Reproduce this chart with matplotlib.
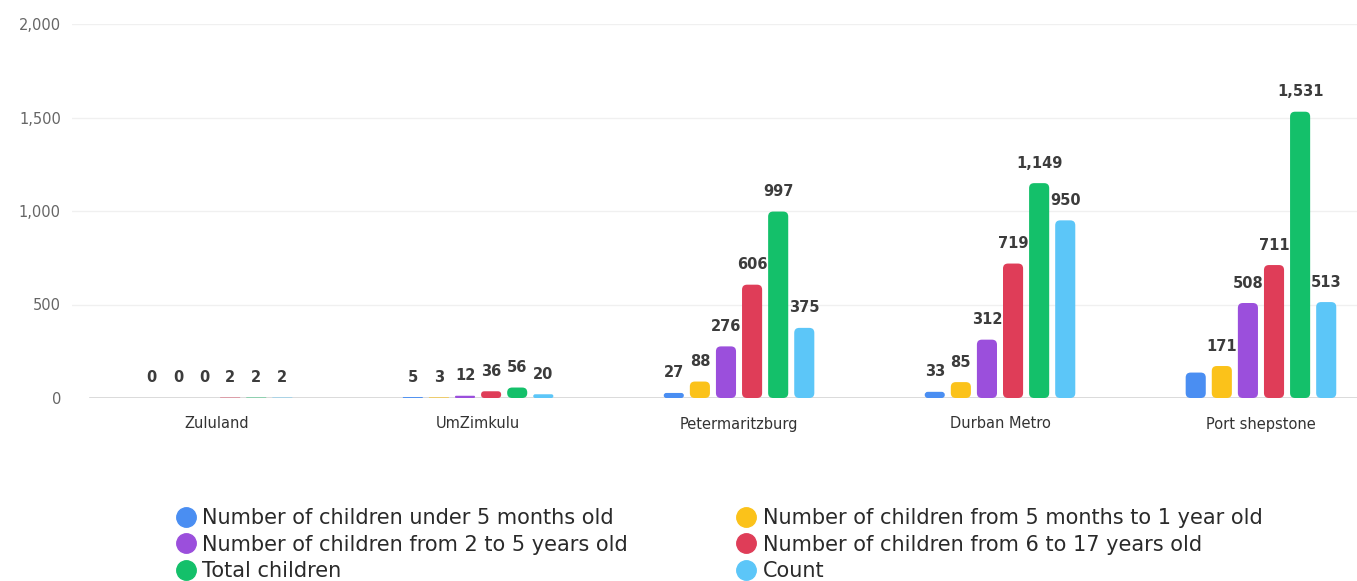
import matplotlib.pyplot as plt
from matplotlib.patches import FancyBboxPatch
from matplotlib.lines import Line2D
from matplotlib import font_manager

# data
regions = ["Zululand", "UmZimkulu", "Petermaritzburg", "Durban Metro", "Port shepstone"]
series_names = [
    "Number of children under 5 months old",
    "Number of children from 5 months to 1 year old",
    "Number of children from 2 to 5 years old",
    "Number of children from 6 to 17 years old",
    "Total children",
    "Count",
]
under_5_months = [0, 5, 27, 33, 136]
months_5_to_1yr = [0, 3, 88, 85, 171]
years_2_to_5 = [0, 12, 276, 312, 508]
years_6_to_17 = [2, 36, 606, 719, 711]
total_children = [2, 56, 997, 1149, 1531]
count = [2, 20, 375, 950, 513]
# labels that the chart hides (overlap)
hidden = [(0, 4)]

series = [under_5_months, months_5_to_1yr, years_2_to_5, years_6_to_17, total_children, count]
colors = ["#4a8ef2", "#fbc21a", "#9b4fdc", "#df3d58", "#14c06a", "#5cc6f8"]

names = {f.name for f in font_manager.fontManager.ttflist}
leg_font = "Liberation Sans Narrow" if "Liberation Sans Narrow" in names else "DejaVu Sans"

W, H = 1357, 581
fig = plt.figure(figsize=(W / 100, H / 100), dpi=100)
ax = fig.add_axes([72 / W, (H - 398) / H, (W - 72) / W, (398 - 24) / H])

xl = (-0.556, 4.368)
yl = (0, 2000)
ax.set_xlim(*xl)
ax.set_ylim(*yl)

pitch = 0.1
width = 0.077
# y data units per x data unit on screen
px_x = (W - 72) / (xl[1] - xl[0])
px_y = (398 - 24) / (yl[1] - yl[0])
aspect = px_x / px_y
r = 5 / px_x

for s, (vals, col) in enumerate(zip(series, colors)):
    for i, v in enumerate(vals):
        xc = i + (s - 2.5) * pitch
        if v > 0:
            hx = v / aspect
            rr = min(r, hx / 2, width / 2)
            p = FancyBboxPatch((xc - width / 2, 0), width, v,
                               boxstyle="round,pad=0,rounding_size=%f" % rr,
                               mutation_aspect=aspect, facecolor=col,
                               edgecolor="none", zorder=3)
            ax.add_patch(p)
        if (s, i) not in hidden:
            ax.text(xc, v + 20 / px_y, f"{v:,}", ha="center", va="center",
                    fontsize=10.5, fontweight="bold", color="#3c3c3c", zorder=4)

ax.set_yticks([0, 500, 1000, 1500, 2000])
ax.set_yticklabels(["0", "500", "1,000", "1,500", "2,000"], color="#666666", fontsize=10.5)
ax.set_xticks([])
ax.tick_params(axis="y", length=0, pad=8)
for sp in ax.spines.values():
    sp.set_visible(False)
for yv in [500, 1000, 1500, 2000]:
    ax.axhline(yv, color="#f0f0f0", lw=1, zorder=0)
ax.axhline(0, xmin=18 / (W - 72), color="#d4d4d4", lw=1.2, zorder=2)

for i, name in enumerate(regions):
    ax.text(i, -26 / px_y, name, ha="center", va="center", fontsize=10.5, color="#333333")

# legend, row-wise order in two columns
handles = [Line2D([], [], marker="o", ls="none", markersize=14, color=c) for c in colors]
order = [0, 2, 4, 1, 3, 5]
leg = fig.legend([handles[k] for k in order], [series_names[k] for k in order],
                 ncol=2, loc="upper left", bbox_to_anchor=(167 / W, 1 - 500 / H),
                 frameon=False, labelspacing=0.3, handletextpad=0.3,
                 columnspacing=5.15, handlelength=1.0, borderaxespad=0,
                 prop={"family": leg_font, "size": 15})
for t in leg.get_texts():
    t.set_color("#2a2a2a")

fig.savefig("out.png", dpi=100)
